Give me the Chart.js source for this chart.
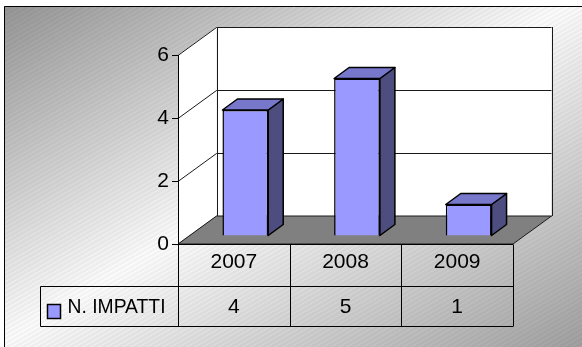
<!DOCTYPE html>
<html>
<head>
<meta charset="utf-8">
<script src="https://cdn.jsdelivr.net/npm/chart.js@4"></script>
<style>
  html, body { margin: 0; padding: 0; background: #fff; }
  canvas { display: block; }
</style>
</head>
<body>
<canvas id="impattiChart" width="582" height="347"></canvas>
<script>
const years = ["2007", "2008", "2009"];
const impatti = [4, 5, 1];
const seriesLabel = "N. IMPATTI";
const yMax = 6;
const yStep = 2;

const FONT = '"Liberation Sans", Arial, sans-serif';
// depth of the walls and of the boxes
const WALL_DX = 38.5;
const WALL_DY = -28;
const BAR_OFF_X = 11.5;
const BAR_OFF_Y = -8;
const BAR_DX = 15;
const BAR_DY = -11;

const poly = (ctx, pts) => {
  ctx.beginPath();
  ctx.moveTo(pts[0][0], pts[0][1]);
  for (let i = 1; i < pts.length; i++) ctx.lineTo(pts[i][0], pts[i][1]);
  ctx.closePath();
};

const line = (ctx, x1, y1, x2, y2) => {
  ctx.beginPath();
  ctx.moveTo(x1, y1);
  ctx.lineTo(x2, y2);
  ctx.stroke();
};

const excel3d = {
  id: "excel3d",
  beforeDraw(chart) {
    const ctx = chart.ctx;
    const { left, right } = chart.chartArea;
    const yScale = chart.scales.y;
    const y0 = yScale.getPixelForValue(0);
    const yTop = yScale.getPixelForValue(yMax);

    // background
    ctx.save();
    ctx.fillStyle = "#fff";
    ctx.fillRect(0, 0, chart.width, chart.height);
    const g = ctx.createLinearGradient(0, 0, 302, 507);
    g.addColorStop(0, "#959595");
    g.addColorStop(0.5, "#ffffff");
    g.addColorStop(1, "#a4a4a4");
    ctx.fillStyle = g;
    ctx.fillRect(4, 6, chart.width - 4, chart.height - 6);
    ctx.beginPath();
    ctx.rect(4, 6, chart.width - 4, chart.height - 6);
    ctx.clip();
    ctx.strokeStyle = "rgba(0,0,0,0.045)";
    ctx.lineWidth = 3;
    for (let k = -720; k < 620; k += 8) {
      line(ctx, k, 360, k + 720, -50);
    }
    ctx.restore();

    // frame
    ctx.save();
    ctx.strokeStyle = "#000";
    ctx.lineWidth = 1;
    line(ctx, 4.5, 6.5, chart.width, 6.5);
    line(ctx, 4.5, 6.5, 4.5, chart.height);

    // walls
    ctx.fillStyle = "#fff";
    poly(ctx, [[left, y0], [left, yTop], [left + WALL_DX, yTop + WALL_DY], [left + WALL_DX, y0 + WALL_DY]]);
    ctx.fill();
    ctx.fillRect(left + WALL_DX, yTop + WALL_DY, right - left, y0 - yTop);

    // gridlines on side and back wall
    ctx.strokeStyle = "#1a1a1a";
    yScale.ticks.forEach((t) => {
      const py = Math.round(yScale.getPixelForValue(t.value)) + 0.5;
      ctx.beginPath();
      ctx.moveTo(left, py);
      ctx.lineTo(left + WALL_DX, py + WALL_DY);
      ctx.lineTo(right + WALL_DX, py + WALL_DY);
      ctx.stroke();
    });
    const bx1 = Math.round(left + WALL_DX) + 0.5;
    const bx2 = Math.round(right + WALL_DX) + 0.5;
    line(ctx, bx1, yTop + WALL_DY, bx1, y0 + WALL_DY);
    line(ctx, bx2, yTop + WALL_DY, bx2, y0 + WALL_DY);

    // floor
    ctx.fillStyle = "#808080";
    poly(ctx, [[left, y0], [right, y0], [right + WALL_DX, y0 + WALL_DY], [left + WALL_DX, y0 + WALL_DY]]);
    ctx.fill();
    ctx.stroke();
    ctx.restore();
  },
  beforeDatasetsDraw(chart) {
    const ctx = chart.ctx;
    const meta = chart.getDatasetMeta(0);
    ctx.save();
    ctx.strokeStyle = "#000";
    ctx.lineWidth = 1.5;
    ctx.lineJoin = "round";
    meta.data.forEach((bar) => {
      const { x, y, base, width } = bar.getProps(["x", "y", "base", "width"], true);
      const x1 = x - width / 2 + BAR_OFF_X;
      const x2 = x + width / 2 + BAR_OFF_X;
      const yt = y + BAR_OFF_Y;
      const yb = base + BAR_OFF_Y;
      ctx.fillStyle = "#4d4d80";
      poly(ctx, [[x2, yt], [x2 + BAR_DX, yt + BAR_DY], [x2 + BAR_DX, yb + BAR_DY], [x2, yb]]);
      ctx.fill();
      ctx.stroke();
      ctx.fillStyle = "#7777cc";
      poly(ctx, [[x1, yt], [x2, yt], [x2 + BAR_DX, yt + BAR_DY], [x1 + BAR_DX, yt + BAR_DY]]);
      ctx.fill();
      ctx.stroke();
    });
    ctx.restore();
    // front faces are drawn by Chart.js, shifted into the depth
    ctx.save();
    ctx.translate(BAR_OFF_X, BAR_OFF_Y);
  },
  afterDatasetsDraw(chart) {
    chart.ctx.restore();
  },
  afterDraw(chart) {
    const ctx = chart.ctx;
    const { left, right } = chart.chartArea;
    const xScale = chart.scales.x;
    const y0 = chart.scales.y.getPixelForValue(0);
    const r1 = Math.round(y0) + 0.5;
    const r2 = r1 + 42;
    const r3 = r2 + 40;
    const legLeft = 40.5;
    ctx.save();
    ctx.strokeStyle = "#000";
    ctx.lineWidth = 1;
    line(ctx, left, r1, right, r1);
    line(ctx, legLeft, r2, right, r2);
    line(ctx, legLeft, r3, right, r3);
    line(ctx, legLeft, r2, legLeft, r3);
    line(ctx, Math.round(left) + 0.5, y0, Math.round(left) + 0.5, r3);
    years.forEach((yr, i) => {
      const edge = Math.round(xScale.getPixelForValue(i) + (xScale.getPixelForValue(1) - xScale.getPixelForValue(0)) / 2) + 0.5;
      line(ctx, edge, r1, edge, r3);
    });

    // values row
    ctx.fillStyle = "#000";
    ctx.font = "21px " + FONT;
    ctx.textAlign = "center";
    ctx.textBaseline = "middle";
    impatti.forEach((v, i) => {
      ctx.fillText(String(v), xScale.getPixelForValue(i), (r2 + r3) / 2 + 1);
    });

    // legend key
    ctx.fillStyle = "#9999ff";
    ctx.fillRect(47.5, 304.5, 13, 14);
    ctx.lineWidth = 1.5;
    ctx.strokeRect(47.5, 304.5, 13, 14);
    ctx.fillStyle = "#000";
    ctx.textAlign = "left";
    ctx.translate(67.5, (r2 + r3) / 2 + 1);
    ctx.scale(0.92, 1);
    ctx.fillText(seriesLabel, 0, 0);
    ctx.restore();
  },
};

const ctxChart = document.getElementById("impattiChart");
const myChart = new Chart(ctxChart, {
  type: "bar",
  data: {
    labels: years,
    datasets: [
      {
        label: seriesLabel,
        data: impatti,
        backgroundColor: "#9999ff",
        borderColor: "#000",
        borderWidth: 1.5,
        barPercentage: 0.41,
        categoryPercentage: 1,
      },
    ],
  },
  options: {
    responsive: false,
    animation: false,
    devicePixelRatio: 1,
    events: [],
    layout: { padding: { left: 0, right: 69, top: 55, bottom: 61 } },
    plugins: { legend: { display: false }, tooltip: { enabled: false } },
    scales: {
      x: {
        grid: { display: false, drawTicks: false },
        border: { display: false },
        ticks: { color: "#000", font: { family: FONT, size: 21 }, padding: 6 },
        afterFit: (s) => { s.height = 42; },
      },
      y: {
        min: 0,
        max: yMax,
        ticks: { stepSize: yStep, color: "#000", font: { family: FONT, size: 21 }, padding: 3 },
        grid: { drawOnChartArea: false, color: "#000", tickLength: 6 },
        border: { display: true, color: "#000" },
        afterFit: (s) => { s.width = 178; },
      },
    },
  },
  plugins: [excel3d],
});
</script>
</body>
</html>
